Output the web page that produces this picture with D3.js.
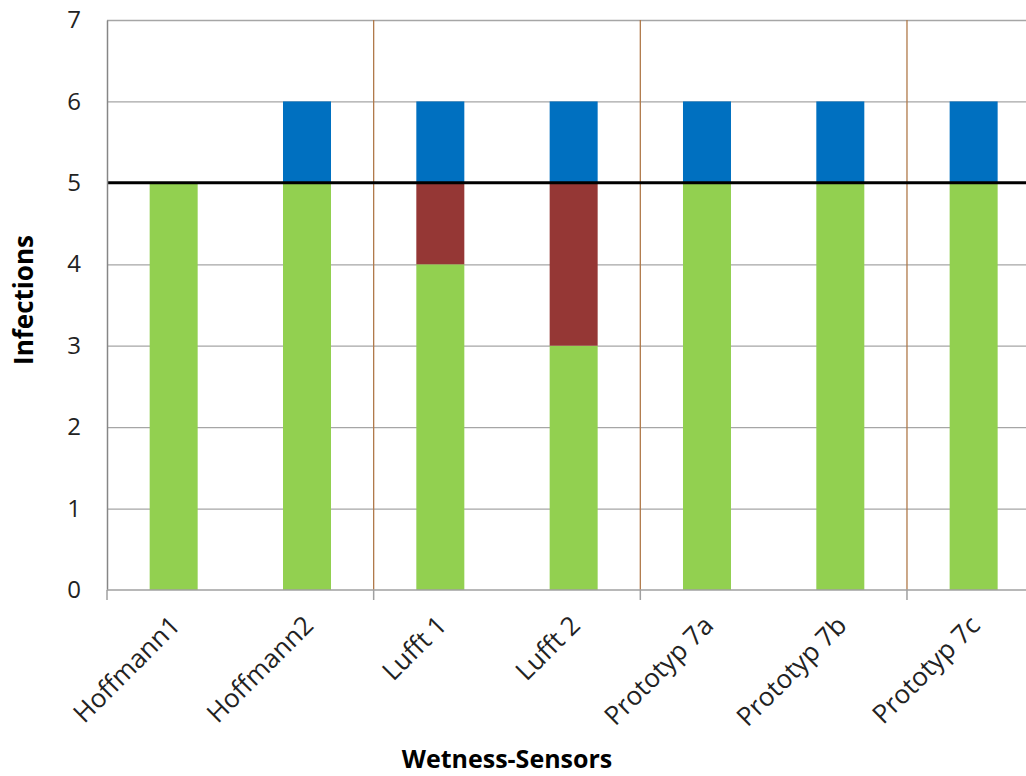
<!DOCTYPE html>
<html lang="en">
<head>
<meta charset="UTF-8">
<script src="https://cdn.jsdelivr.net/npm/d3@7"></script>
<style>
  body { margin: 0; background: #fff; }
  text { font-family: "Open Sans", "Liberation Sans", sans-serif; }
</style>
</head>
<body>
<script>
  var categories = ["Hoffmann1", "Hoffmann2", "Lufft 1", "Lufft 2", "Prototyp 7a", "Prototyp 7b", "Prototyp 7c"];
  var correct = [5, 5, 4, 3, 5, 5, 5];
  var missed = [0, 0, 1, 2, 0, 0, 0];
  var extra = [0, 1, 1, 1, 1, 1, 1];
  var yTicks = [0, 1, 2, 3, 4, 5, 6, 7];
  var threshold = 5;
  var groupEdges = [0, 2, 4, 6]; // boundaries that get a tick + divider

  var width = 1026, height = 776;
  var plotLeft = 107, plotTop = 20, plotBottom = 590;
  var band = 133.33;

  var svg = d3.select('body').append('svg')
    .attr('width', width)
    .attr('height', height);

  var x = d3.scaleBand()
    .domain(categories)
    .range([plotLeft, plotLeft + band * categories.length])
    .paddingInner(0.64)
    .paddingOuter(0.32);

  var y = d3.scaleLinear().domain([0, 7]).range([plotBottom, plotTop]);

  var rows = categories.map(function(c, i) {
    return {name: c, correct: correct[i], missed: missed[i], extra: extra[i]};
  });
  var keys = ['correct', 'missed', 'extra'];
  var colors = {correct: '#92d050', missed: '#953735', extra: '#0070c0'};
  var stacked = d3.stack().keys(keys)(rows);

  // horizontal gridlines
  svg.append('g').selectAll('line')
    .data(yTicks.slice(1))
    .enter().append('line')
    .attr('x1', plotLeft).attr('x2', width)
    .attr('y1', function(d) { return y(d) + 0.5; })
    .attr('y2', function(d) { return y(d) + 0.5; })
    .attr('stroke', '#a6a6a6')
    .attr('stroke-width', 1.3);

  // vertical dividers between sensor groups
  svg.append('g').selectAll('line')
    .data(groupEdges.slice(1))
    .enter().append('line')
    .attr('x1', function(d) { return plotLeft + band * d; })
    .attr('x2', function(d) { return plotLeft + band * d; })
    .attr('y1', plotTop).attr('y2', plotBottom)
    .attr('stroke', '#b0794a')
    .attr('stroke-width', 1.3);

  // bars
  svg.append('g').selectAll('g')
    .data(stacked)
    .enter().append('g')
    .attr('fill', function(d) { return colors[d.key]; })
    .selectAll('rect')
    .data(function(d) { return d; })
    .enter().append('rect')
    .attr('x', function(d) { return x(d.data.name); })
    .attr('width', x.bandwidth())
    .attr('y', function(d) { return y(d[1]); })
    .attr('height', function(d) { return y(d[0]) - y(d[1]); });

  // threshold line
  svg.append('line')
    .attr('x1', plotLeft).attr('x2', width)
    .attr('y1', y(threshold)).attr('y2', y(threshold))
    .attr('stroke', '#000')
    .attr('stroke-width', 3);

  // y axis
  var yAxis = svg.append('g')
    .attr('transform', 'translate(' + plotLeft + ',0)')
    .call(d3.axisLeft(y).tickValues(yTicks).tickFormat(d3.format('d')).tickSize(0).tickPadding(26));
  yAxis.select('.domain').attr('stroke', '#868686').attr('stroke-width', 1.5);
  yAxis.selectAll('text')
    .attr('font-size', 24)
    .attr('fill', '#222');

  // x axis
  var xAxis = svg.append('g')
    .attr('transform', 'translate(0,' + plotBottom + ')');
  xAxis.append('line')
    .attr('x1', plotLeft).attr('x2', width)
    .attr('stroke', '#a0a0a0').attr('stroke-width', 1.5);
  xAxis.selectAll('.tick')
    .data(groupEdges)
    .enter().append('line')
    .attr('x1', function(d) { return plotLeft + band * d; })
    .attr('x2', function(d) { return plotLeft + band * d; })
    .attr('y1', 0).attr('y2', 10)
    .attr('stroke', '#a0a0a0').attr('stroke-width', 1.5);
  xAxis.selectAll('.lbl')
    .data(categories)
    .enter().append('text')
    .attr('transform', function(d) {
      return 'translate(' + (x(d) + x.bandwidth() / 2 + 8) + ',37) rotate(-45)';
    })
    .attr('text-anchor', 'end')
    .attr('font-size', 26)
    .attr('fill', '#222')
    .text(function(d) { return d; });

  // axis titles
  svg.append('text')
    .attr('transform', 'translate(33,300) rotate(-90)')
    .attr('text-anchor', 'middle')
    .attr('font-size', 26)
    .attr('font-weight', 'bold')
    .text('Infections');

  svg.append('text')
    .attr('x', 507).attr('y', 768)
    .attr('text-anchor', 'middle')
    .attr('font-size', 25)
    .attr('font-weight', 'bold')
    .text('Wetness-Sensors');
</script>
</body>
</html>
